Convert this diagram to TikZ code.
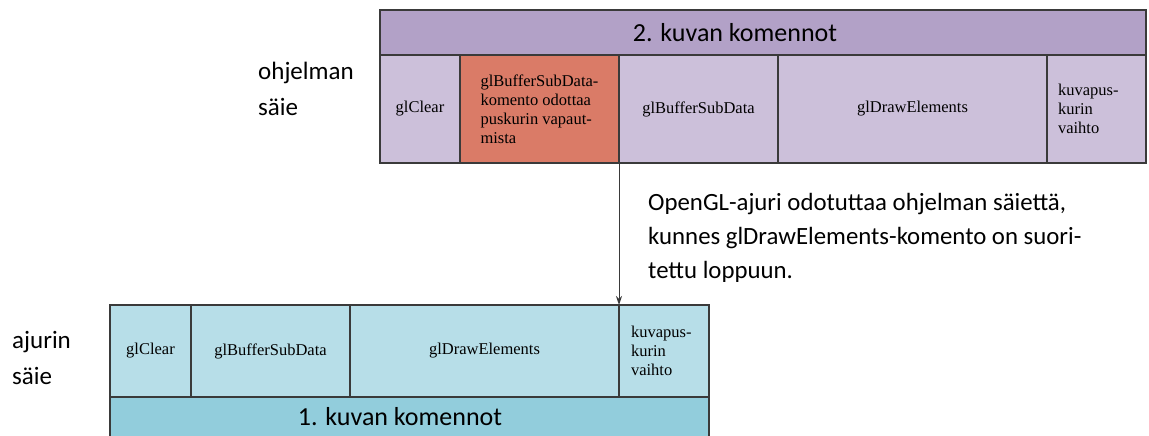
\documentclass[tikz,border=0pt]{standalone}
\usepackage{fontspec}
\setmainfont{Liberation Serif}
\newfontfamily\calfont{Carlito}
\usetikzlibrary{positioning, arrows.meta}
\usepackage{xcolor}
\definecolor{progdark}{HTML}{B2A1C7}
\definecolor{proglight}{HTML}{CCC0DA}
\definecolor{waitred}{HTML}{DA7B67}
\definecolor{drvdark}{HTML}{92CDDC}
\definecolor{drvlight}{HTML}{B7DEE8}
\definecolor{edgegray}{HTML}{3A3A3A}

\begin{document}
\begin{tikzpicture}[
    x=1pt, y=-1pt,
    >={Stealth[length=9pt, width=6pt]},
    cell/.style={
        rectangle, draw=edgegray, line width=1.1pt,
        inner sep=0pt, outer sep=0pt, align=left,
        font=\fontsize{16.5}{19}\selectfont,
    },
    pcell/.style={cell, fill=proglight, minimum height=108pt},
    dcell/.style={cell, fill=drvlight, minimum height=92pt},
    hdr/.style={
        rectangle, draw=edgegray, line width=1.1pt,
        inner sep=0pt, outer sep=0pt,
        font=\calfont\fontsize{26}{30}\selectfont,
    },
    lbl/.style={align=left, inner sep=0pt,
        font=\calfont\fontsize{25}{36}\selectfont},
    note/.style={align=left, inner sep=0pt,
        font=\calfont\fontsize{24.8}{34}\selectfont},
]
\useasboundingbox (0,0) rectangle (1149,436);

% Top: program thread, frame 2
\node[hdr, fill=progdark, minimum width=766pt, minimum height=45pt,
    anchor=north west] (phead) at (380,10)
    {2. kuvan komennot\hspace*{56pt}};
\node[pcell, minimum width=80pt, anchor=north west] (pclear)
    at (phead.south west) {glClear};
\node[pcell, fill=waitred, minimum width=159pt, right=0pt of pclear] (pwait)
    {glBufferSubData-\\komento odottaa\\puskurin vapaut-\\mista};
\node[pcell, minimum width=159pt, right=0pt of pwait] (psub)
    {glBufferSubData};
\node[pcell, minimum width=269pt, right=0pt of psub] (pdraw)
    {glDrawElements};
\node[pcell, text width=77pt, inner xsep=11pt, right=0pt of pdraw] (pswap)
    {kuvapus-\\kurin\\vaihto};

\node[lbl, anchor=north west] (plbl) at (258,62) {ohjelman\\säie};

% Bottom: driver thread, frame 1
\node[dcell, minimum width=81pt, anchor=north west] (dclear)
    at (110,305) {glClear};
\node[dcell, minimum width=159pt, right=0pt of dclear] (dsub)
    {glBufferSubData};
\node[dcell, minimum width=269pt, right=0pt of dsub] (ddraw)
    {glDrawElements};
\node[dcell, text width=66pt, inner xsep=12pt, right=0pt of ddraw] (dswap)
    {kuvapus-\\kurin\\vaihto};
\node[hdr, fill=drvdark, minimum width=599pt, minimum height=40pt,
    anchor=north west] (dhead) at (dclear.south west)
    {1. kuvan komennot\hspace*{19pt}};

\node[lbl, anchor=north west] (dlbl) at (12,331) {ajurin\\säie};

% --- Driver holds the program thread ---
\draw[->, draw=edgegray, line width=1pt] (pwait.south east) -- (ddraw.north east);
\node[note, anchor=north west] (waitnote) at (648,193)
    {OpenGL-ajuri odotuttaa ohjelman säiettä,\\
     kunnes glDrawElements-komento on suori-\\
     tettu loppuun.};

\end{tikzpicture}
\end{document}
